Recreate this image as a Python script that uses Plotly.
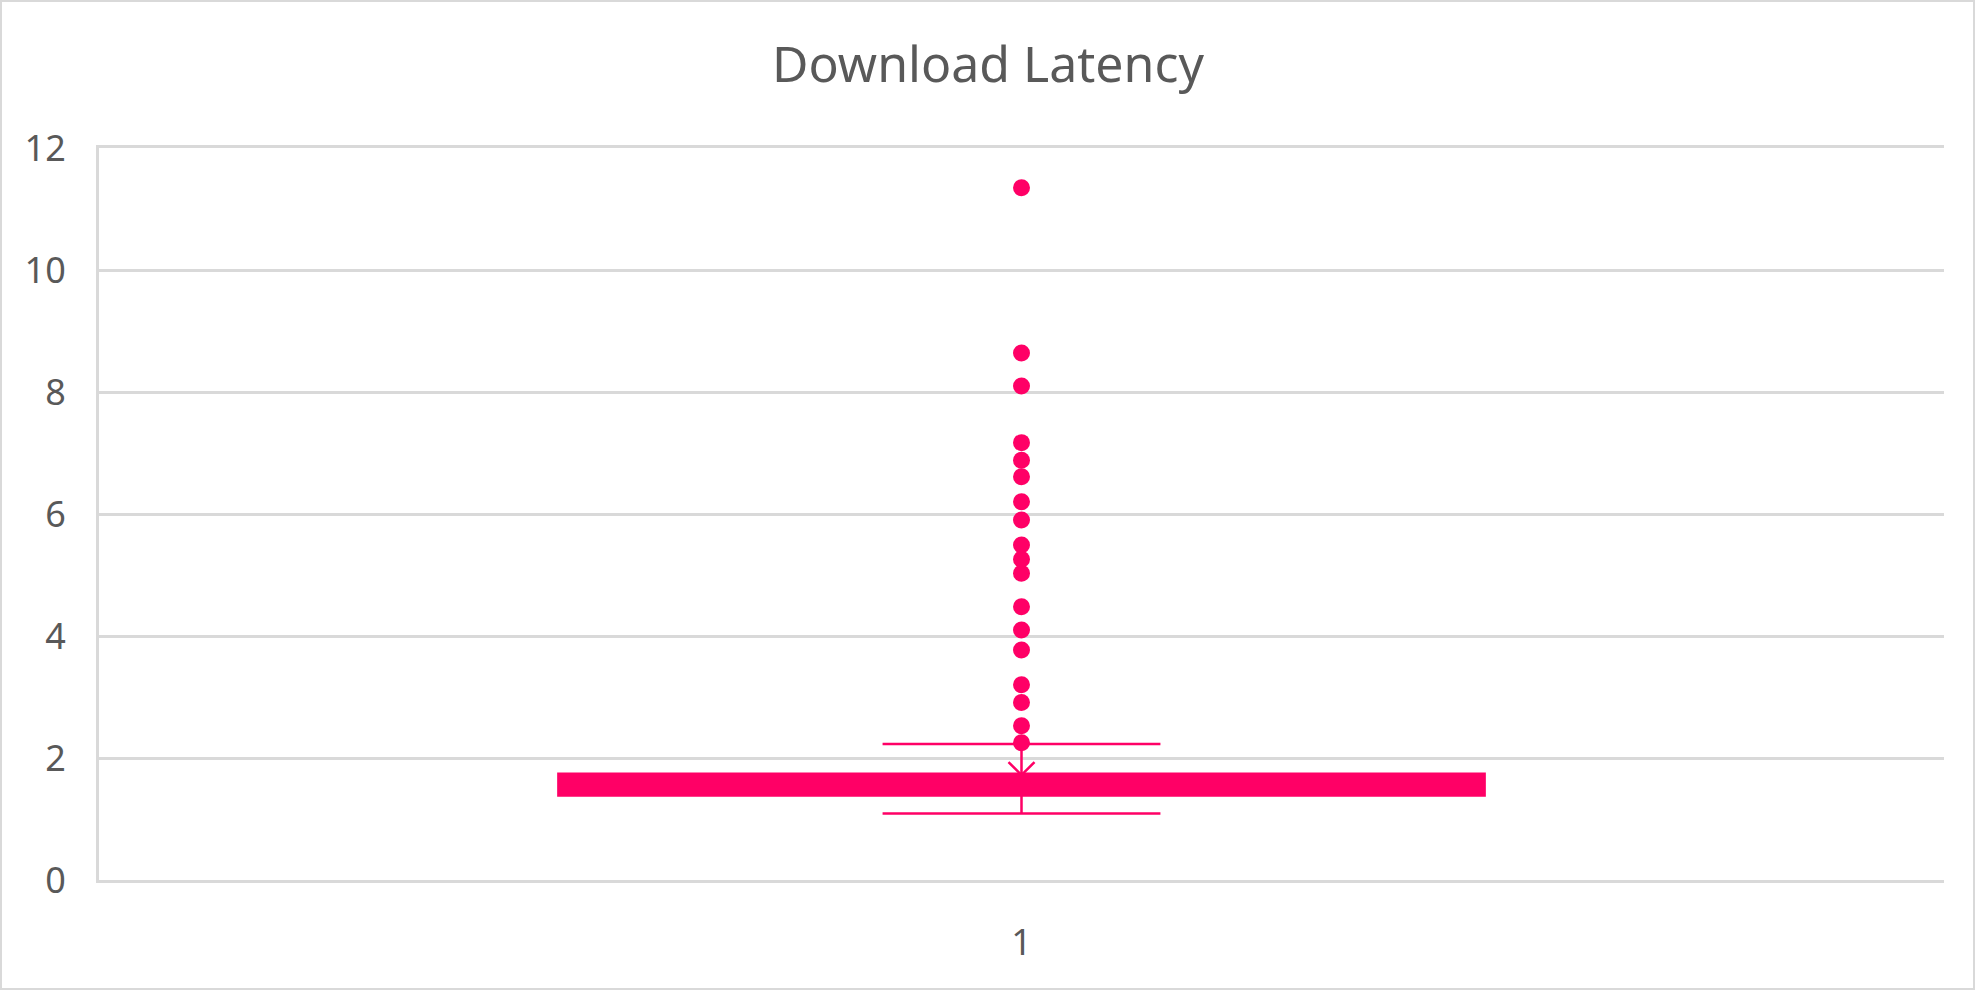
import plotly.graph_objects as go

# ---- data ----
category = ["1"]
q1 = [1.385]
median = [1.55]
q3 = [1.74]
lower_fence = [1.09]
upper_fence = [2.23]
mean_value = [1.72]
outliers = [11.35, 8.64, 8.10, 7.17, 6.88, 6.61, 6.20, 5.90, 5.49, 5.26,
            5.03, 4.48, 4.10, 3.77, 3.20, 2.91, 2.53, 2.25]
y_ticks = [0, 2, 4, 6, 8, 10, 12]
title_text = "Download Latency"

PINK = "#FF0066"
GRID = "#D9D9D9"
TEXT = "#595959"
FONT = "Noto Sans"

W, H = 1976, 991
ML, MR, MT, MB = 99, 32, 148, 111

fig = go.Figure()
fig.add_trace(go.Box(
    x=category, q1=q1, median=median, q3=q3,
    lowerfence=lower_fence, upperfence=upper_fence,
    boxpoints=False, width=0.502, whiskerwidth=0.3,
    fillcolor=PINK, line=dict(color=PINK, width=2.5),
    showlegend=False, hoverinfo="skip",
))
fig.add_trace(go.Scatter(
    x=category * len(outliers), y=outliers, mode="markers",
    marker=dict(color=PINK, size=17, line=dict(width=0)),
    showlegend=False,
))
fig.add_trace(go.Scatter(
    x=category, y=mean_value, mode="markers",
    marker=dict(symbol="x-thin", size=26, line=dict(color=PINK, width=2.5)),
    showlegend=False,
))

pw = W - ML - MR
ph = H - MT - MB
fig.add_shape(type="rect", xref="paper", yref="paper",
              x0=(1 - ML) / pw, x1=(W - 2 - ML) / pw,
              y0=(H - MB - (H - 2)) / ph, y1=(H - MB - 1) / ph,
              line=dict(color=GRID, width=2), fillcolor="rgba(0,0,0,0)",
              layer="below")

fig.update_layout(
    width=W, height=H,
    margin=dict(l=ML, r=MR, t=MT, b=MB),
    paper_bgcolor="white", plot_bgcolor="white",
    title=dict(text=title_text, x=0.5, xanchor="center",
               y=1 - 64 / H, yanchor="middle", yref="container",
               font=dict(family=FONT, size=50, color=TEXT)),
    font=dict(family=FONT, color=TEXT),
    xaxis=dict(type="category", range=[-0.5, 0.5], showgrid=False,
               showline=True, mirror=True, linecolor=GRID, linewidth=3,
               ticks="", tickfont=dict(family=FONT, size=36, color=TEXT),
               ticklabelstandoff=29, zeroline=False),
    yaxis=dict(range=[0, 12], tickvals=y_ticks, showgrid=True,
               gridcolor=GRID, gridwidth=3, showline=True, linecolor=GRID,
               linewidth=3, zeroline=False, ticks="",
               tickfont=dict(family=FONT, size=36, color=TEXT),
               ticklabelstandoff=23),
)

fig.write_html("out.html")
